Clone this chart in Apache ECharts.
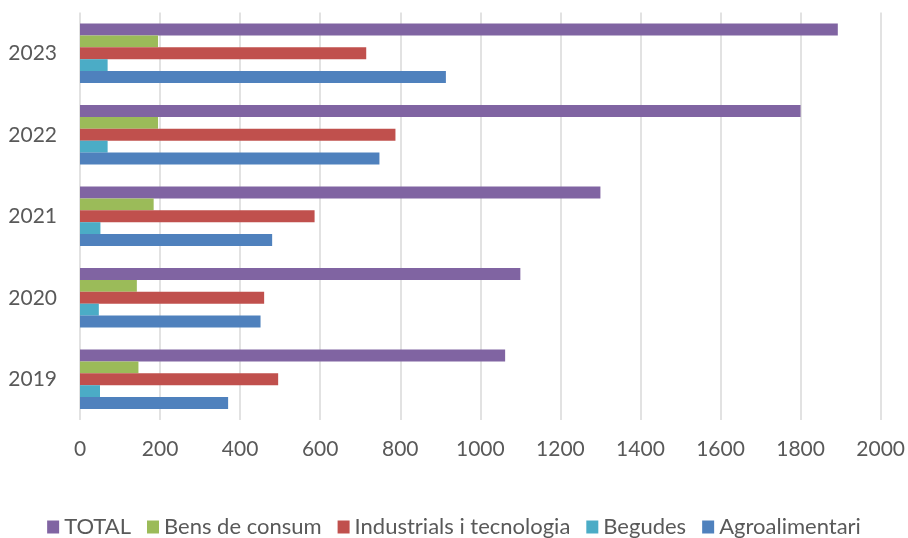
<!DOCTYPE html>
<html>
<head>
<meta charset="utf-8">
<script src="https://cdn.jsdelivr.net/npm/echarts@6/dist/echarts.min.js"></script>
<style>html,body{margin:0;padding:0;background:#fff}#c{width:908px;height:538px}</style>
</head>
<body>
<div id="c"></div>
<script>
var years = ['2019', '2020', '2021', '2022', '2023'];
var agroalimentari = [370, 451, 480, 748, 914];
var begudes = [50, 47, 51, 69, 69];
var industrials = [495, 460, 586, 788, 715];
var bensConsum = [146, 142, 184, 195, 195];
var total = [1062, 1100, 1300, 1800, 1893];
var xTicks = [0, 200, 400, 600, 800, 1000, 1200, 1400, 1600, 1800, 2000];

var FONT = 'Lato';
var chart = echarts.init(document.getElementById('c'));
function mk(name, data, color) {
  return {
    name: name, type: 'bar', data: data,
    barGap: '0%', barCategoryGap: '27%',
    itemStyle: { color: color },
    animation: false
  };
}
chart.setOption({
  animation: false,
  grid: { left: 80, right: 26, top: 12.5, bottom: 118, containLabel: false },
  xAxis: {
    type: 'value', min: xTicks[0], max: xTicks[xTicks.length - 1], interval: 200,
    axisLine: { show: false }, axisTick: { show: false },
    splitLine: { show: true, lineStyle: { color: '#d9d9d9', width: 1.5 } },
    axisLabel: { color: '#595959', fontFamily: FONT, fontSize: 21, margin: 19,
      formatter: function (v) { return String(v); } }
  },
  yAxis: {
    type: 'category', data: years,
    axisLine: { show: false }, axisTick: { show: false },
    axisLabel: { color: '#595959', fontFamily: FONT, fontSize: 21, margin: 23 }
  },
  legend: {
    data: ['TOTAL', 'Bens de consum', 'Industrials i tecnologia', 'Begudes', 'Agroalimentari'],
    bottom: -5, left: 'center', icon: 'rect', itemWidth: 12, itemHeight: 13, itemGap: 16,
    textStyle: { color: '#595959', fontFamily: FONT, fontSize: 22 }
  },
  series: [
    mk('TOTAL', total, '#8064A2'),
    mk('Bens de consum', bensConsum, '#9BBB59'),
    mk('Industrials i tecnologia', industrials, '#C0504D'),
    mk('Begudes', begudes, '#4BACC6'),
    mk('Agroalimentari', agroalimentari, '#4F81BD')
  ]
});
</script>
</body>
</html>
